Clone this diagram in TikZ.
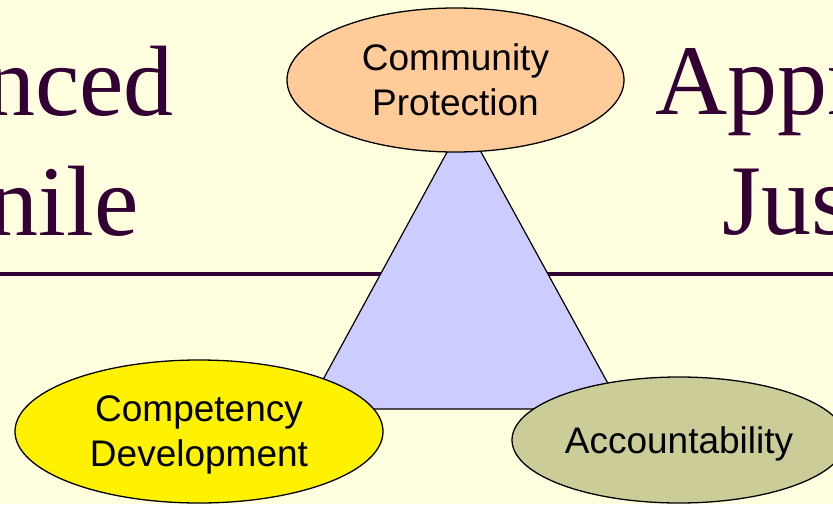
\documentclass[tikz,border=0pt]{standalone}
\usepackage{fontspec}
\setmainfont{Liberation Serif}
\newfontfamily\labelfont{Liberation Sans}
\usetikzlibrary{shapes.geometric}
\definecolor{bgyellow}{HTML}{FFFFE0}
\definecolor{titlepurple}{HTML}{330033}
\definecolor{peach}{HTML}{FFCC99}
\definecolor{olive}{HTML}{CCCC99}
\definecolor{triblue}{HTML}{CCCCFF}
\tikzset{
    goal/.style={ellipse, draw=black, line width=1.3pt, inner sep=0pt, align=center,
        text depth=0pt, font=\labelfont\fontsize{37}{45}\selectfont},
    title/.style={inner sep=0pt, text=titlepurple, font=\fontsize{100}{120}\selectfont}
}

\begin{document}
\begin{tikzpicture}[x=1pt, y=-1pt]
        \useasboundingbox (0,0) rectangle (833,504);
        \clip (0,0) rectangle (833,504);
        \fill[bgyellow] (0,0) rectangle (833,504);

        % title, running off both sides
        \node[title, anchor=base east] (left1) at (174,115) {nced};
        \node[title, anchor=base east] (left2) at (139,235) {nile};
        \node[title, anchor=base west] (right1) at (655.5,114) {Appr};
        \node[title, anchor=base west] (right2) at (722,234) {Jus};

        \draw[titlepurple, line width=4.5pt] (0,274) -- (833,274);

        % the triangle sits under the three ellipses
        \coordinate (apex) at (464,121);
        \coordinate (bl) at (307,409);
        \coordinate (br) at (622,409);
        \draw[fill=triblue, line width=1.2pt, line join=round] (apex) -- (bl) -- (br) -- cycle;

        \node[goal, fill=peach, minimum width=337pt, minimum height=144pt] (protect) at (455.5,80) {Community\\Protection};
        \node[goal, fill=yellow, minimum width=368pt, minimum height=143pt] (compet) at (199,431.5) {Competency\\Development};
        \node[goal, fill=olive, minimum width=334pt, minimum height=126pt] (account) at (679,440) {Accountability};

    \end{tikzpicture}
\end{document}
